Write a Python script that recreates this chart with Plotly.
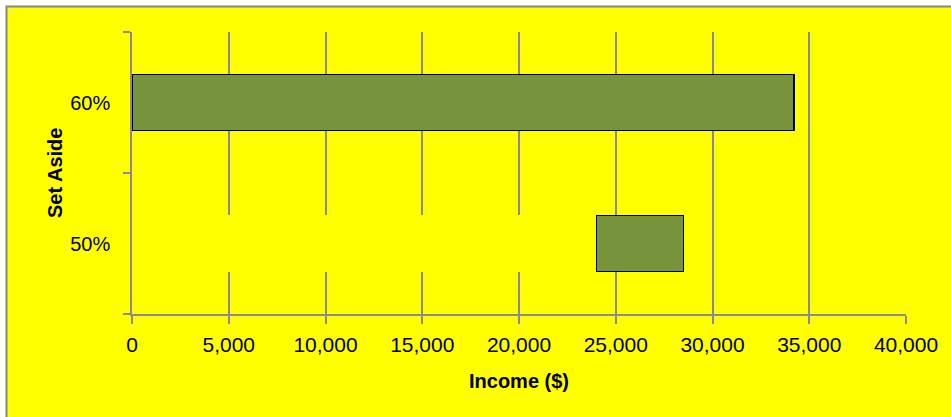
import plotly.graph_objects as go

# Data
categories = ["50%", "60%"]
low_values = [24000, 0]        # start of each income range
high_values = [28500, 34200]   # end of each income range
tick_values = [0, 5000, 10000, 15000, 20000, 25000, 30000, 35000, 40000]
tick_labels = ["0", "5,000", "10,000", "15,000", "20,000", "25,000", "30,000", "35,000", "40,000"]

span_values = [h - l for h, l in zip(high_values, low_values)]

YELLOW = "#FFFF00"
GRID = "#8A8A9A"
FONT = "Liberation Sans"

fig = go.Figure()
fig.add_trace(go.Bar(
    y=categories, x=low_values, orientation="h",
    marker=dict(color=YELLOW, line=dict(width=0)),
    showlegend=False, hoverinfo="skip",
))
fig.add_trace(go.Bar(
    y=categories, x=span_values, orientation="h",
    marker=dict(color="#77933C", line=dict(color="#000000", width=1.5)),
    showlegend=False,
))

L, R, T, B = 132, 45, 32, 103
W, H = 951, 417
pw, ph = W - L - R, H - T - B

def px_x(p):
    return (p - L) / pw

def px_y(p):
    return (H - B - p) / ph

fig.update_layout(
    width=W, height=H,
    margin=dict(l=L, r=R, t=T, b=B, pad=0),
    paper_bgcolor="white",
    plot_bgcolor="rgba(0,0,0,0)",
    barmode="stack",
    bargap=0.6,
    font=dict(family=FONT, color="black", size=20),
    xaxis=dict(
        range=[0, 40000], tickvals=tick_values, ticktext=tick_labels,
        showgrid=True, gridcolor=GRID, gridwidth=1.5,
        showline=True, linecolor=GRID, linewidth=1.5,
        ticks="outside", ticklen=8, tickcolor=GRID, tickwidth=1.5,
        tickfont=dict(size=21, family=FONT),
        ticklabelstandoff=3,
        zeroline=False, fixedrange=True,
    ),
    yaxis=dict(
        type="category", categoryorder="array", categoryarray=categories,
        showgrid=False,
        showline=True, linecolor=GRID, linewidth=1.5,
        ticks="outside", ticklen=7, tickcolor=GRID, tickwidth=1.5,
        tickson="boundaries",
        tickfont=dict(size=20, family=FONT),
        ticklabelstandoff=16,
        zeroline=False, fixedrange=True,
    ),
    shapes=[
        dict(type="rect", xref="paper", yref="paper",
             x0=px_x(6.5), x1=px_x(W + 20), y0=px_y(H + 20), y1=px_y(6.5),
             fillcolor=YELLOW, line=dict(color="#868686", width=2), layer="below"),
    ],
    annotations=[
        dict(text="<b>Income ($)</b>", xref="paper", yref="paper",
             x=0.5, y=px_y(381), xanchor="center", yanchor="middle",
             showarrow=False, font=dict(size=20, family=FONT)),
        dict(text="<b>Set Aside</b>", xref="paper", yref="paper",
             x=px_x(55), y=0.5, xanchor="center", yanchor="middle",
             textangle=-90, showarrow=False, font=dict(size=20, family=FONT)),
    ],
)

fig.write_html("out.html", config={"displayModeBar": False},
               post_script="document.body.style.margin='0px';")
